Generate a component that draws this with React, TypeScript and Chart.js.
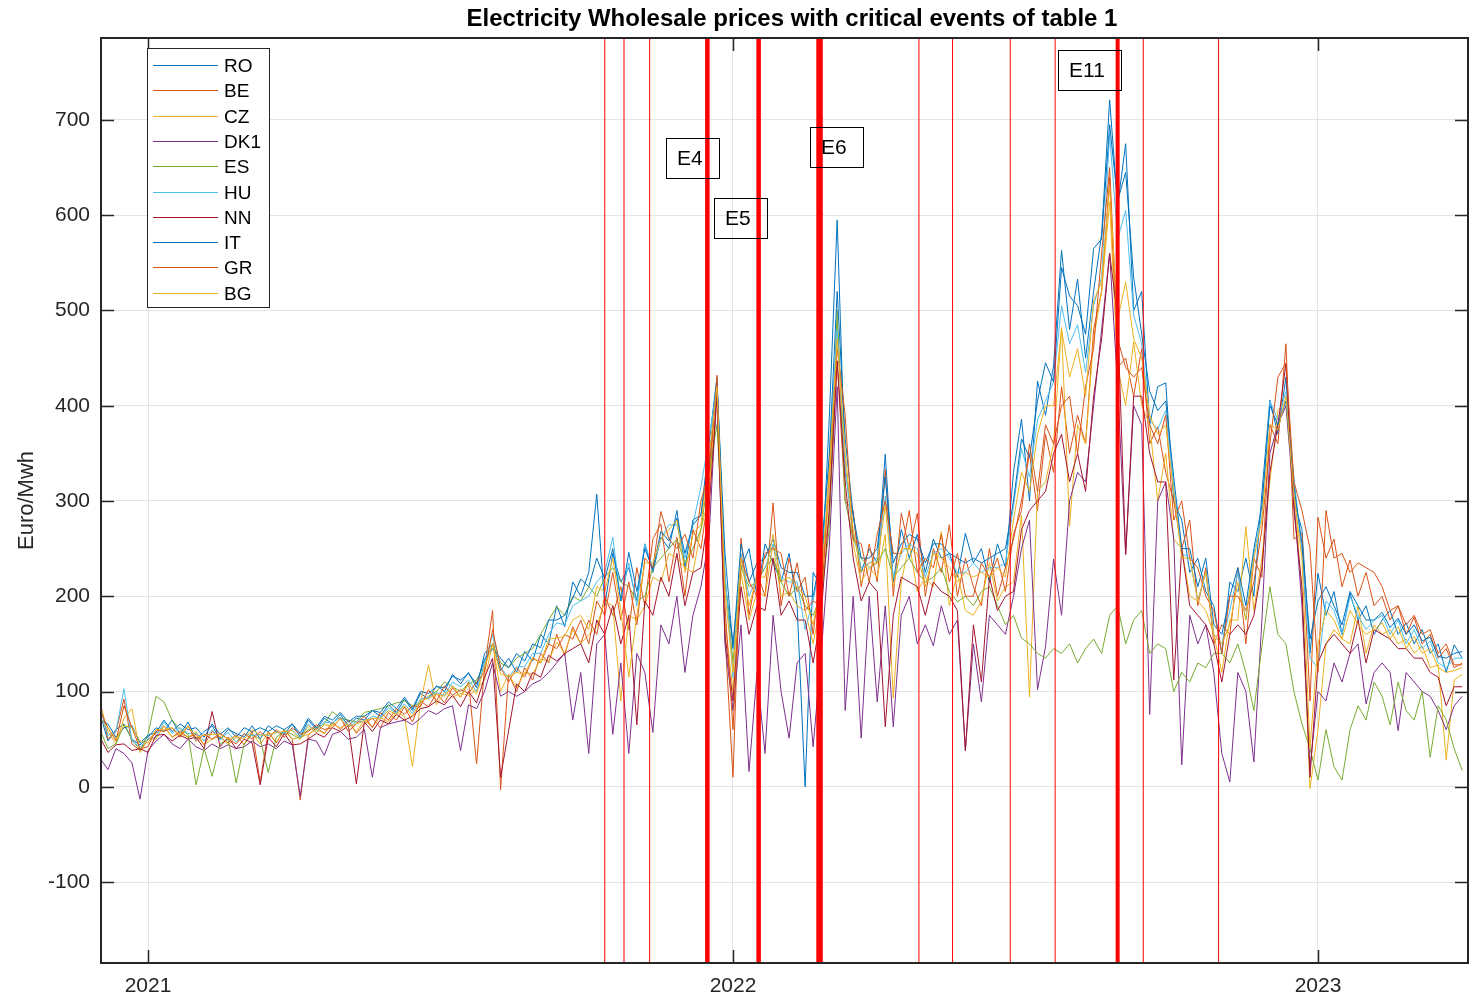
import React, { useEffect, useRef } from "react";
import { Chart, registerables } from "chart.js";

Chart.register(...registerables);

// Sampling grid: days counted from 1 Jan 2021, one sample every 5 days (3 Dec 2020 .. 30 Mar 2023)
const days: number[] = Array.from({ length: 171 }, (_, k) => -30 + 5 * k);

const seriesNames = ["RO", "BE", "CZ", "DK1", "ES", "HU", "NN", "IT", "GR", "BG"];
const seriesColors = ["#0072BD", "#D95319", "#EDB120", "#7E2F8E", "#77AC30", "#4DBEEE", "#A2142F", "#0072BD", "#D95319", "#EDB120"];

const RO = [
  77, 48, 60, 66, 50, 44, 52, 62, 58, 70,
  55, 68, 50, 58, 64, 50, 60, 56, 52, 64,
  50, 64, 58, 55, 66, 52, 70, 60, 72, 66,
  76, 64, 72, 70, 80, 74, 86, 78, 92, 80,
  98, 92, 106, 100, 118, 108, 120, 104, 140, 150,
  122, 135, 120, 142, 132, 160, 150, 190, 168, 215,
  200, 225, 307, 190, 245, 215, 230, 195, 255, 225,
  262, 250, 290, 230, 280, 285, 360, 430, 215, 150,
  230, 250, 200, 255, 235, 215, 245, 190, 0, 225,
  210, 384, 595, 330, 285, 225, 250, 235, 349, 215,
  270, 240, 265, 225, 260, 240, 245, 220, 266, 235,
  250, 215, 255, 230, 330, 386, 300, 426, 390, 442,
  563, 480, 533, 450, 520, 580, 721, 610, 675, 500,
  520, 380, 420, 424, 300, 280, 225, 240, 205, 190,
  140, 215, 205, 240, 200, 308, 406, 370, 430, 300,
  270, 140, 224, 180, 205, 160, 203, 175, 190, 160,
  175, 185, 160, 172, 150, 165, 140, 150, 120, 149,
  135,
];

const BE = [
  90, 50, 58, 92, 45, 38, 50, 56, 64, 52,
  58, 52, 55, 44, 58, 52, 46, 55, 44, 58,
  5, 58, 46, 60, 50, -14, 54, 62, 56, 68,
  60, 70, 56, 66, 72, 62, 78, 70, 84, 68,
  90, 84, 98, 88, 104, 94, 110, 24, 125, 185,
  -3, 118, 100, 125, 112, 140, 130, 160, 138, 168,
  150, 175, 160, 200, 180, 210, 165, 230, 190, 260,
  276, 215, 262, 200, 270, 250, 310, 432, 160, 10,
  261, 180, 225, 200, 298, 190, 240, 205, 220, 160,
  230, 280, 447, 300, 290, 210, 255, 215, 333, 200,
  287, 250, 287, 200, 250, 225, 275, 200, 240, 210,
  190, 250, 200, 230, 260, 300, 350, 290, 370, 330,
  420, 350, 390, 360, 480, 520, 640, 440, 450, 410,
  460, 360, 378, 330, 300, 250, 280, 190, 230, 150,
  170, 160, 230, 150, 240, 220, 380, 360, 465, 260,
  266, 90, 283, 240, 260, 210, 238, 200, 225, 190,
  200, 175, 190, 160, 178, 150, 160, 135, 145, 125,
  130,
];

const CZ = [
  88, 58, 45, 72, 82, 36, 50, 50, 64, 52,
  56, 52, 58, 44, 50, 53, 44, 52, 45, 56,
  45, 56, 47, 59, 50, 52, 55, 60, 56, 66,
  62, 66, 58, 70, 63, 73, 68, 78, 74, 21,
  88, 128, 86, 99, 94, 98, 96, 102, 112, 150,
  100, 118, 104, 120, 118, 134, 132, 152, 140, 165,
  150, 160, 168, 195, 190, 90, 180, 175, 190, 220,
  215, 245, 240, 230, 225, 270, 305, 420, 175, 100,
  225, 175, 205, 200, 255, 200, 205, 190, 185, 150,
  195, 310, 489, 340, 255, 215, 230, 220, 265, 93,
  215, 255, 205, 220, 210, 268, 190, 225, 185, 180,
  195, 235, 195, 210, 215, 285, 94, 310, 320, 360,
  482, 274, 380, 360, 470, 520, 614, 440, 400, 467,
  400, 380, 300, 350, 260, 250, 200, 195, 185, 160,
  120, 175, 175, 273, 185, 240, 320, 395, 405, 320,
  200, -2, 60, 150, 165, 155, 150, 190, 140, 170,
  160, 165, 150, 155, 140, 148, 125, 128, 28, 112,
  118,
];

const DK1 = [
  30, 18, 40, 35, 25, -13, 38, 48, 55, 45,
  40, 50, 42, 38, 45, 40, 44, 40, 42, 48,
  42, 45, 40, 48, 44, -10, 50, 48, 33, 55,
  58, 50, 52, 60, 10, 62, 66, 68, 70, 65,
  72, 80, 76, 82, 85, 38, 86, 82, 100, 130,
  95, 100, 95, 100, 108, 112, 120, 130, 140, 70,
  120, 35, 150, 160, 55, 130, 35, 140, 120, 57,
  170, 150, 200, 120, 180, 210, 260, 420, 150, 80,
  170, 16, 120, 35, 180, 100, 51, 130, 140, 42,
  139, 250, 420, 80, 200, 51, 200, 89, 190, 63,
  180, 200, 150, 170, 148, 190, 160, 175, 38, 150,
  89, 180, 170, 160, 200, 250, 280, 102, 147, 239,
  180, 300, 330, 320, 400, 480, 560, 420, 244, 400,
  380, 76, 300, 320, 260, 23, 180, 150, 170, 120,
  35, 5, 120, 100, 26, 175, 350, 380, 400, 300,
  190, 20, 100, 90, 130, 110, 140, 150, 87, 120,
  130, 120, 59, 120, 110, 100, 95, 80, 60, 85,
  95,
];

const ES = [
  60, 40, 45, 65, 50, 38, 55, 95, 89, 70,
  60, 55, 2, 40, 11, 45, 50, 4, 45, 55,
  50, 15, 52, 58, 55, 50, 60, 62, 66, 79,
  72, 70, 68, 78, 80, 82, 85, 88, 90, 85,
  88, 95, 100, 110, 105, 100, 108, 112, 128, 150,
  130, 125, 135, 140, 145, 160, 175, 189, 180, 200,
  195, 210, 200, 220, 230, 215, 210, 195, 200, 230,
  240, 250, 260, 235, 250, 270, 330, 380, 220, 130,
  230, 210, 215, 230, 240, 215, 200, 210, 190, 180,
  200, 270, 500, 300, 260, 240, 230, 235, 250, 220,
  230, 240, 225, 215, 220, 230, 205, 194, 200, 190,
  205, 210, 190, 170, 180, 156, 150, 140, 135, 145,
  140, 150, 130, 145, 155, 140, 180, 190, 150, 175,
  185, 140, 150, 145, 100, 120, 110, 130, 125, 140,
  140, 130, 150, 120, 80, 147, 210, 160, 150, 100,
  66, 40, 7, 60, 21, 7, 60, 85, 70, 110,
  95, 65, 110, 80, 70, 100, 31, 85, 70, 40,
  17,
];

const HU = [
  84, 54, 58, 103, 48, 42, 50, 52, 68, 56,
  62, 56, 56, 48, 60, 49, 57, 47, 55, 54,
  55, 54, 57, 57, 60, 51, 66, 57, 68, 67,
  73, 63, 68, 69, 74, 72, 83, 77, 87, 77,
  92, 94, 99, 96, 110, 105, 112, 100, 130, 160,
  125, 115, 126, 126, 140, 140, 160, 172, 170, 190,
  195, 200, 215, 225, 262, 195, 235, 190, 255, 230,
  260, 275, 275, 240, 275, 315, 365, 420, 225, 115,
  245, 200, 220, 230, 255, 220, 215, 215, 165, 195,
  240, 345, 480, 335, 265, 230, 235, 240, 305, 220,
  245, 255, 250, 220, 245, 250, 240, 225, 225, 235,
  225, 230, 230, 235, 295, 355, 325, 385, 405, 425,
  505, 465, 485, 435, 505, 535, 685, 575, 605, 495,
  465, 385, 375, 395, 315, 245, 240, 195, 225, 160,
  150, 185, 225, 175, 245, 285, 405, 385, 415, 325,
  245, 135, 125, 195, 185, 160, 200, 180, 165, 175,
  180, 160, 175, 150, 165, 145, 153, 130, 125, 135,
  135,
];

const NN = [
  52, 36, 44, 45, 38, 40, 36, 54, 55, 48,
  54, 50, 52, 40, 79, 42, 52, 40, 50, 46,
  2, 52, 42, 56, 44, 45, 50, 56, 52, 62,
  58, 64, 3, 68, 58, 70, 66, 76, 70, 74,
  82, 84, 90, 86, 96, 84, 100, 88, 115, 135,
  10, 59, 108, 100, 120, 115, 138, 132, 140, 145,
  150, 130, 175, 160, 190, 150, 180, 65, 195, 180,
  220, 200, 245, 190, 225, 230, 290, 410, 160, 90,
  210, 160, 190, 185, 240, 180, 195, 175, 175, 130,
  180, 290, 447, 320, 240, 195, 215, 205, 63, 180,
  220, 215, 210, 180, 215, 205, 200, 185, 38, 170,
  110, 220, 185, 200, 205, 270, 290, 300, 310, 350,
  370, 320, 350, 310, 410, 470, 560, 492, 244, 410,
  410, 350, 320, 320, 112, 250, 190, 180, 170, 150,
  110, 160, 170, 160, 180, 230, 330, 380, 444, 290,
  210, 10, 130, 150, 160, 150, 140, 175, 130, 165,
  160, 155, 145, 145, 135, 135, 120, 115, 85, 105,
  105,
];

const IT = [
  70, 66, 52, 62, 64, 46, 54, 57, 70, 58,
  66, 60, 62, 52, 66, 55, 62, 52, 62, 58,
  62, 58, 64, 60, 66, 56, 72, 62, 74, 70,
  78, 68, 74, 74, 80, 78, 89, 82, 94, 82,
  100, 98, 105, 104, 116, 112, 119, 108, 134, 145,
  135, 125, 140, 132, 150, 146, 175, 175, 180, 198,
  218, 210, 240, 218, 250, 195, 246, 205, 250, 228,
  268, 258, 282, 245, 275, 285, 340, 425, 245, 145,
  255, 215, 235, 240, 260, 230, 225, 225, 200, 200,
  245, 345, 520, 365, 285, 240, 240, 250, 325, 235,
  255, 265, 260, 235, 255, 255, 245, 240, 235, 240,
  235, 240, 245, 250, 300, 365, 345, 405, 445, 425,
  545, 515, 505, 475, 565, 575, 695, 615, 645, 535,
  475, 415, 395, 405, 325, 250, 250, 210, 240, 170,
  160, 200, 230, 190, 250, 295, 400, 380, 405, 315,
  255, 155, 195, 210, 190, 170, 205, 190, 175, 175,
  183, 167, 177, 160, 170, 153, 157, 137, 135, 140,
  142,
];

const GR = [
  80, 62, 48, 85, 62, 40, 42, 60, 58, 62,
  52, 64, 48, 55, 50, 56, 50, 45, 56, 50,
  58, 50, 60, 52, 62, 55, 58, 65, 60, 62,
  72, 58, 66, 74, 62, 78, 70, 82, 76, 85,
  84, 102, 90, 106, 96, 102, 98, 110, 120, 165,
  125, 110, 125, 115, 135, 130, 150, 145, 160, 155,
  175, 150, 195, 180, 225, 175, 215, 170, 240, 230,
  289, 260, 250, 265, 240, 300, 330, 425, 190, 60,
  240, 215, 200, 245, 250, 245, 200, 235, 185, 195,
  190, 330, 460, 390, 260, 255, 215, 265, 300, 245,
  245, 290, 225, 240, 230, 265, 215, 245, 200, 200,
  235, 220, 240, 205, 265, 290, 360, 310, 380, 360,
  400, 410, 350, 420, 460, 560, 650, 470, 440, 430,
  440, 380, 360, 390, 280, 300, 240, 230, 200, 185,
  140, 200, 200, 185, 215, 270, 360, 430, 445, 320,
  290, 250, 120, 290, 240, 245, 225, 235, 230, 225,
  210, 185, 190, 170, 180, 160, 165, 140, 150, 128,
  128,
];

const BG = [
  72, 62, 50, 64, 62, 48, 46, 60, 60, 62,
  54, 64, 52, 54, 55, 55, 50, 53, 50, 60,
  54, 55, 57, 58, 59, 50, 64, 57, 65, 64,
  71, 63, 66, 69, 72, 71, 80, 76, 85, 74,
  90, 93, 97, 95, 106, 94, 108, 97, 126, 150,
  118, 116, 120, 118, 136, 130, 155, 156, 158, 175,
  180, 165, 210, 205, 240, 185, 115, 180, 235, 235,
  260, 270, 280, 225, 265, 275, 345, 420, 205, 120,
  240, 190, 220, 220, 265, 215, 220, 210, 200, 170,
  215, 330, 470, 350, 270, 225, 235, 235, 295, 210,
  250, 250, 245, 210, 245, 240, 230, 215, 225, 220,
  225, 220, 230, 220, 280, 330, 310, 370, 400, 400,
  480, 430, 460, 410, 510, 530, 630, 490, 530, 470,
  450, 390, 370, 380, 310, 240, 240, 195, 225, 160,
  150, 170, 215, 175, 240, 280, 380, 375, 410, 305,
  240, 40, 150, 185, 175, 155, 185, 170, 160, 165,
  172, 155, 168, 145, 158, 140, 145, 125, 120, 122,
  125,
];

const seriesValues = [RO, BE, CZ, DK1, ES, HU, NN, IT, GR, BG];

// Axis ticks
const yearTicks = [0, 365, 730];
const yearLabels = ["2021", "2022", "2023"];
const yTicks = [-100, 0, 100, 200, 300, 400, 500, 600, 700];

// Critical events (day from 1 Jan 2021) and the stroke width used for each
const eventDays = [285, 297, 313, 349, 381, 419, 481, 502, 538, 566, 605, 621, 668];
const eventWidths = [1, 1, 1, 4.5, 4.5, 6.5, 1, 1, 1, 1, 4, 1, 1];

// Event labels: anchor day (left edge of box) and price level (box middle)
const eventLabels = ["E4", "E5", "E6", "E11"];
const eventLabelDays = [323.2, 352.9, 413.1, 567.8];
const eventLabelValues = [660, 597, 672, 752];

const FONT = "'Liberation Sans', Arial, Helvetica, sans-serif";
const INK = "#262626";

const overlayPlugin = {
  id: "overlay",
  afterDatasetsDraw(chart: any) {
    const { ctx, chartArea: a, scales } = chart;
    const x = scales.x;
    const y = scales.y;
    ctx.save();
    ctx.beginPath();
    ctx.rect(a.left, a.top, a.right - a.left, a.bottom - a.top);
    ctx.clip();
    eventDays.forEach((d, k) => {
      const px = x.getPixelForValue(d);
      ctx.strokeStyle = "#ff0000";
      ctx.lineWidth = eventWidths[k];
      ctx.beginPath();
      ctx.moveTo(px, a.top);
      ctx.lineTo(px, a.bottom);
      ctx.stroke();
    });
    ctx.font = `21px ${FONT}`;
    ctx.textBaseline = "middle";
    ctx.textAlign = "left";
    eventLabels.forEach((label, k) => {
      const px = Math.round(x.getPixelForValue(eventLabelDays[k]));
      const py = Math.round(y.getPixelForValue(eventLabelValues[k]));
      const w = Math.round(ctx.measureText(label).width + 27);
      ctx.strokeStyle = "#000000";
      ctx.lineWidth = 1;
      ctx.strokeRect(px + 0.5, py - 20 + 0.5, w, 40);
      ctx.fillStyle = "#000000";
      ctx.fillText(label, px + 11, py + 1);
    });
    ctx.restore();
  },
  afterDraw(chart: any) {
    const { ctx, chartArea: a, scales } = chart;
    const x = scales.x;
    const y = scales.y;
    ctx.save();

    // axes box
    ctx.strokeStyle = INK;
    ctx.lineWidth = 2;
    ctx.strokeRect(a.left, a.top, a.right - a.left, a.bottom - a.top);

    // inward tick marks on all four sides
    const tl = 13;
    ctx.lineWidth = 1.5;
    yTicks.forEach((v) => {
      const py = Math.round(y.getPixelForValue(v)) + 0.5;
      ctx.beginPath();
      ctx.moveTo(a.left, py);
      ctx.lineTo(a.left + tl, py);
      ctx.moveTo(a.right, py);
      ctx.lineTo(a.right - tl, py);
      ctx.stroke();
    });
    yearTicks.forEach((d) => {
      const px = Math.round(x.getPixelForValue(d)) + 0.5;
      ctx.beginPath();
      ctx.moveTo(px, a.bottom);
      ctx.lineTo(px, a.bottom - tl);
      ctx.moveTo(px, a.top);
      ctx.lineTo(px, a.top + tl);
      ctx.stroke();
    });

    // title
    ctx.fillStyle = "#000000";
    ctx.font = `bold 24px ${FONT}`;
    ctx.textAlign = "center";
    ctx.textBaseline = "middle";
    ctx.fillText("Electricity Wholesale prices with critical events of table 1", 792, 19);

    // y-axis label
    ctx.save();
    ctx.translate(27, (a.top + a.bottom) / 2);
    ctx.rotate(-Math.PI / 2);
    ctx.fillStyle = INK;
    ctx.font = `22px ${FONT}`;
    ctx.fillText("Euro/Mwh", 0, 0);
    ctx.restore();

    // legend
    const lx = 147.5, ly = 48.5, lw = 122, lh = 259;
    ctx.fillStyle = "#ffffff";
    ctx.fillRect(lx, ly, lw, lh);
    ctx.strokeStyle = INK;
    ctx.lineWidth = 1;
    ctx.strokeRect(lx, ly, lw, lh);
    ctx.font = `19px ${FONT}`;
    ctx.textAlign = "left";
    ctx.textBaseline = "middle";
    seriesNames.forEach((name, k) => {
      const ry = Math.round(65 + k * 25.3) + 0.5;
      ctx.strokeStyle = seriesColors[k];
      ctx.lineWidth = 1;
      ctx.beginPath();
      ctx.moveTo(153, ry);
      ctx.lineTo(218, ry);
      ctx.stroke();
      ctx.fillStyle = "#000000";
      ctx.fillText(name, 224, ry + 1);
    });
    ctx.restore();
  },
};

export default function App() {
  const canvasRef = useRef<HTMLCanvasElement | null>(null);

  useEffect(() => {
    const canvas = canvasRef.current;
    if (!canvas) return;
    Chart.defaults.font.family = FONT;

    const datasets = seriesNames.map((name, k) => ({
      label: name,
      data: days.map((d, j) => ({ x: d, y: seriesValues[k][j] })),
      borderColor: seriesColors[k],
      backgroundColor: seriesColors[k],
      borderWidth: 1,
      pointRadius: 0,
      tension: 0,
      fill: false,
      order: seriesNames.length - 1 - k,
    }));

    const chart = new Chart(canvas, {
      type: "line",
      data: { datasets },
      options: {
        animation: false,
        responsive: false,
        maintainAspectRatio: false,
        devicePixelRatio: 1,
        layout: { padding: { top: 38, right: 2, bottom: 0, left: 0 } },
        plugins: {
          legend: { display: false },
          title: { display: false },
          tooltip: { enabled: false },
        },
        scales: {
          x: {
            type: "linear",
            min: -29.33,
            max: 823.6,
            afterBuildTicks: (s: any) => {
              s.ticks = yearTicks.map((v) => ({ value: v }));
            },
            afterFit: (s: any) => {
              s.height = 35;
            },
            ticks: {
              autoSkip: false,
              maxRotation: 0,
              padding: 11,
              color: INK,
              font: { size: 21 },
              callback: (_v: any, i: number) => yearLabels[i],
            },
            grid: { color: "#e3e3e3", lineWidth: 1, drawTicks: false },
            border: { display: false },
          },
          y: {
            type: "linear",
            min: -185,
            max: 786,
            afterBuildTicks: (s: any) => {
              s.ticks = yTicks.map((v) => ({ value: v }));
            },
            afterFit: (s: any) => {
              s.width = 101;
            },
            ticks: {
              padding: 11,
              color: INK,
              font: { size: 21 },
              callback: (v: any) => String(v),
            },
            grid: { color: "#e3e3e3", lineWidth: 1, drawTicks: false },
            border: { display: false },
          },
        },
      },
      plugins: [overlayPlugin],
    });

    return () => chart.destroy();
  }, []);

  return (
    <div style={{ position: "absolute", left: 0, top: 0, width: 1470, height: 998, background: "#ffffff" }}>
      <canvas ref={canvasRef} width={1470} height={998} style={{ display: "block" }} />
    </div>
  );
}
